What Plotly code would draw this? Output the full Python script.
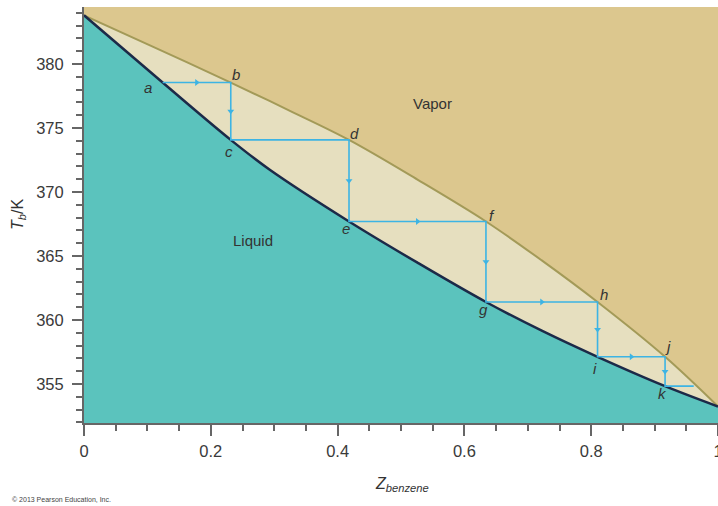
import plotly.graph_objects as go

# Liquid (bubble-point) curve
x_liq = [0.0, 0.124, 0.2315, 0.293, 0.418, 0.526, 0.634, 0.722, 0.81, 0.9165, 1.0]
T_liq = [383.8, 378.55, 374.07, 371.74, 367.7, 364.48, 361.41, 359.17, 357.13, 354.84, 353.25]

# Vapor (dew-point) curve
x_vap = [0.0, 0.104, 0.2315, 0.324, 0.418, 0.526, 0.634, 0.722, 0.81, 0.9165, 1.0]
T_vap = [383.8, 381.45, 378.55, 376.36, 374.07, 370.97, 367.7, 364.66, 361.41, 357.13, 353.25]

# Staircase a -> k
step_x = [0.124, 0.2315, 0.2315, 0.418, 0.418, 0.634, 0.634, 0.81, 0.81, 0.9165, 0.9165, 0.9617]
step_T = [378.55, 378.55, 374.07, 374.07, 367.7, 367.7, 361.41, 361.41, 357.13, 357.13, 354.84, 354.84]

# Point labels
lab_text = ["a", "b", "c", "d", "e", "f", "g", "h", "i", "j", "k"]
lab_x = [0.101, 0.240, 0.228, 0.427, 0.414, 0.644, 0.630, 0.820, 0.806, 0.921, 0.912]
lab_T = [378.2, 379.2, 373.2, 374.6, 367.15, 368.2, 360.8, 362.0, 356.25, 357.9, 354.3]

# Arrow segments (index of segment start in staircase), direction
arrow_segments = [(0, "h"), (1, "v"), (3, "v"), (4, "h"), (5, "v"), (6, "h"), (7, "v"), (8, "h"), (9, "v")]

TAN = "#dcc78e"
BEIGE = "#e6dfbf"
TEAL = "#5bc3bd"
NAVY = "#1c2a48"
OLIVE = "#a39a58"
BLUE = "#3db4e4"
AXIS = "#666666"
TXT = "#333333"
FONT = "Liberation Sans, Arial, sans-serif"

fig = go.Figure()

fig.add_trace(go.Scatter(
    x=x_vap, y=T_vap, mode="lines", fill="tozeroy", fillcolor=BEIGE,
    line=dict(color=OLIVE, width=2, shape="spline"), hoverinfo="skip"))
fig.add_trace(go.Scatter(
    x=x_liq, y=T_liq, mode="lines", fill="tozeroy", fillcolor=TEAL,
    line=dict(color=NAVY, width=2.5, shape="spline"), hoverinfo="skip"))
fig.add_trace(go.Scatter(
    x=step_x, y=step_T, mode="lines",
    line=dict(color=BLUE, width=1.6), hoverinfo="skip"))

ax, ay, asym = [], [], []
for i, d in arrow_segments:
    ax.append((step_x[i] + step_x[i + 1]) / 2)
    ay.append((step_T[i] + step_T[i + 1]) / 2)
    asym.append("triangle-right" if d == "h" else "triangle-down")
fig.add_trace(go.Scatter(
    x=ax, y=ay, mode="markers",
    marker=dict(symbol=asym, size=6, color=BLUE, line=dict(width=0)),
    hoverinfo="skip"))

annotations = []
for t, x, y in zip(lab_text, lab_x, lab_T):
    annotations.append(dict(x=x, y=y, text="<i>%s</i>" % t, showarrow=False,
                            xanchor="center", yanchor="middle",
                            font=dict(family=FONT, size=15, color=TXT)))
annotations.append(dict(x=0.55, y=376.95, text="Vapor", showarrow=False,
                        xanchor="center", yanchor="middle",
                        font=dict(family=FONT, size=15, color=TXT)))
annotations.append(dict(x=0.266, y=366.2, text="Liquid", showarrow=False,
                        xanchor="center", yanchor="middle",
                        font=dict(family=FONT, size=15, color=TXT)))
annotations.append(dict(xref="paper", yref="paper", x=-0.104, y=0.5,
                        xanchor="center", yanchor="middle",
                        text="<i>T<sub>b</sub></i>/K", textangle=-90, showarrow=False,
                        font=dict(family=FONT, size=16, color=TXT)))
annotations.append(dict(xref="paper", yref="paper", x=0.502, y=-0.147,
                        xanchor="center", yanchor="middle",
                        text="<i>Z<sub>benzene</sub></i>", showarrow=False,
                        font=dict(family=FONT, size=16, color=TXT)))
annotations.append(dict(xref="paper", yref="paper", x=-0.1167, y=-0.185,
                        xanchor="left", yanchor="middle",
                        text="© 2013 Pearson Education, Inc.", showarrow=False,
                        font=dict(family=FONT, size=7, color="#444444")))

fig.update_layout(
    width=718, height=506,
    margin=dict(l=84, r=0, t=7, b=83, autoexpand=False),
    paper_bgcolor="white", plot_bgcolor=TAN,
    showlegend=False,
    annotations=annotations,
    font=dict(family=FONT, color="#3a3a3a"),
    xaxis=dict(range=[0, 1], tickvals=[0, 0.2, 0.4, 0.6, 0.8, 1.0],
               ticktext=["0", "0.2", "0.4", "0.6", "0.8", "1"],
               showgrid=False, zeroline=False, showline=True, linecolor=AXIS, linewidth=2,
               ticks="outside", ticklen=11, tickwidth=2, tickcolor=AXIS,
               tickfont=dict(size=16.5, color="#3a3a3a"),
               ticklabelstandoff=1, ticklabeloverflow="allow",
               minor=dict(dtick=0.05, tick0=0, ticks="outside", ticklen=6, tickwidth=2,
                          tickcolor=AXIS, showgrid=False),
               automargin=False, fixedrange=True),
    yaxis=dict(range=[351.96, 384.45], tickvals=[355, 360, 365, 370, 375, 380],
               showgrid=False, zeroline=False, showline=True, linecolor=AXIS, linewidth=2,
               ticks="outside", ticklen=10, tickwidth=2, tickcolor=AXIS,
               tickfont=dict(size=16.5, color="#3a3a3a"),
               ticklabelstandoff=5, ticklabeloverflow="allow",
               minor=dict(dtick=1, tick0=352, ticks="outside", ticklen=6, tickwidth=2,
                          tickcolor=AXIS, showgrid=False),
               automargin=False, fixedrange=True),
)

fig.write_html("out.html", config={"displayModeBar": False},
               post_script="document.body.style.margin='0px';document.body.style.overflow='hidden';")
